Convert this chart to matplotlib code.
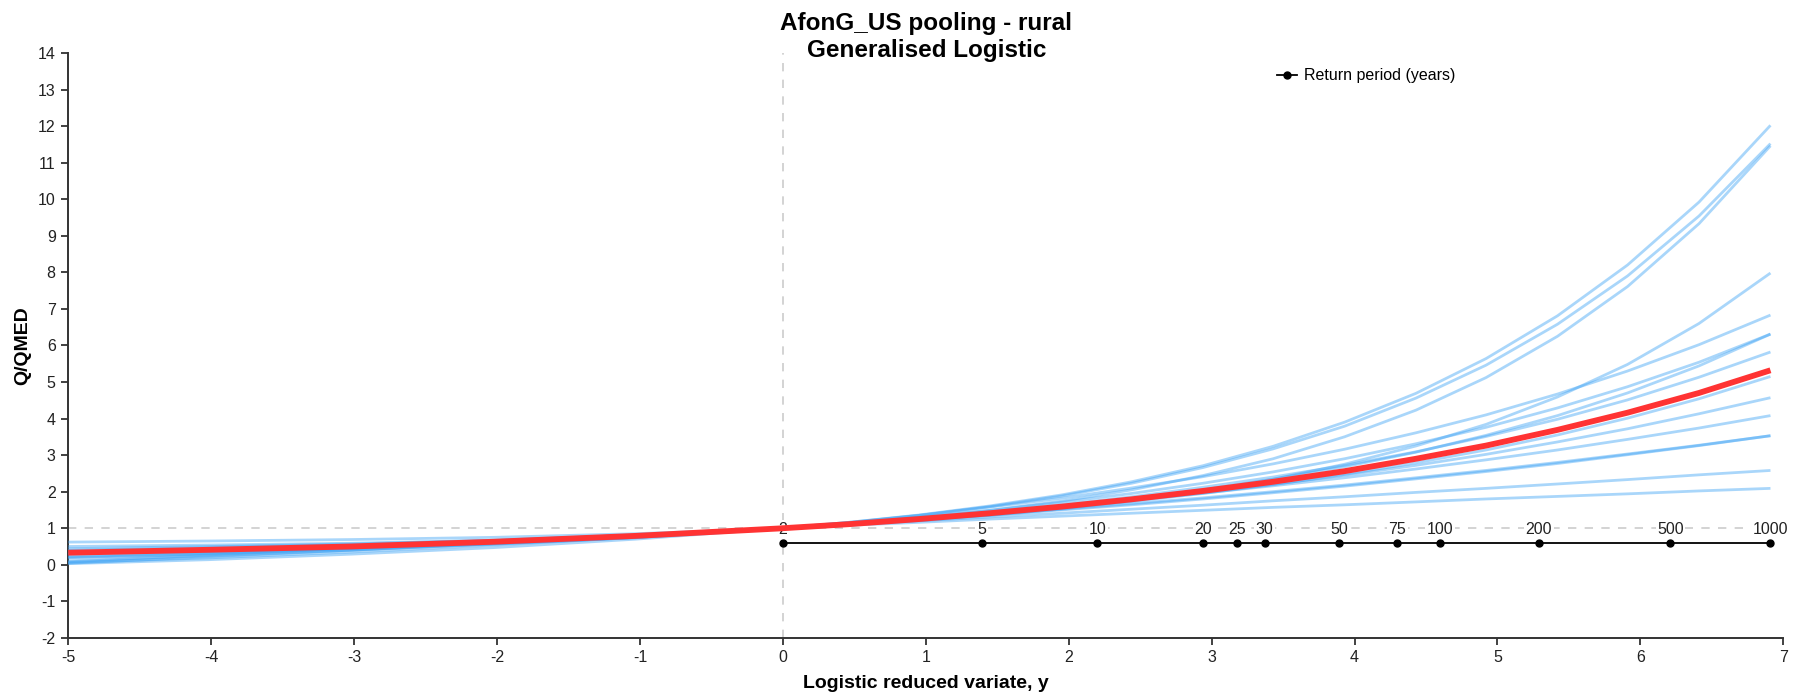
import matplotlib
matplotlib.use("Agg")
import matplotlib.pyplot as plt
from matplotlib.lines import Line2D

plt.rcParams['font.family'] = ['Liberation Sans', 'DejaVu Sans']
plt.rcParams['axes.unicode_minus'] = False

# logistic reduced variate where the growth curves were sampled
x_grid = [-5.0, -4.01, -3.02, -2.02, -1.03, -0.04, 0.46, 0.95, 1.45, 1.95,
          2.44, 2.94, 3.43, 3.93, 4.43, 4.92, 5.42, 5.91, 6.41, 6.91]

# single-site growth curves (Q/QMED) in the pooling group
site_01 = [0.32, 0.37, 0.45, 0.57, 0.74, 0.99, 1.16, 1.36, 1.61, 1.91, 2.27, 2.71, 3.24, 3.90, 4.69, 5.64, 6.81, 8.20, 9.92, 12.02]
site_02 = [0.33, 0.38, 0.46, 0.58, 0.74, 0.99, 1.15, 1.35, 1.59, 1.88, 2.23, 2.66, 3.17, 3.79, 4.56, 5.46, 6.58, 7.90, 9.54, 11.52]
site_03 = [0.50, 0.54, 0.59, 0.67, 0.80, 0.99, 1.12, 1.29, 1.49, 1.74, 2.05, 2.44, 2.90, 3.50, 4.23, 5.12, 6.25, 7.61, 9.33, 11.46]
site_04 = [0.62, 0.65, 0.69, 0.75, 0.85, 0.99, 1.09, 1.21, 1.35, 1.53, 1.75, 2.02, 2.34, 2.75, 3.25, 3.84, 4.59, 5.48, 6.60, 7.98]
site_05 = [0.03, 0.14, 0.29, 0.47, 0.70, 0.99, 1.16, 1.35, 1.58, 1.82, 2.10, 2.41, 2.76, 3.16, 3.61, 4.10, 4.67, 5.30, 6.02, 6.83]
site_06 = [0.20, 0.29, 0.41, 0.56, 0.75, 0.99, 1.14, 1.30, 1.49, 1.71, 1.95, 2.23, 2.54, 2.90, 3.31, 3.76, 4.29, 4.87, 5.54, 6.31]
site_07 = [0.44, 0.50, 0.57, 0.67, 0.81, 0.99, 1.11, 1.24, 1.40, 1.59, 1.80, 2.05, 2.34, 2.68, 3.08, 3.54, 4.08, 4.70, 5.44, 6.31]
site_08 = [0.28, 0.36, 0.46, 0.60, 0.77, 0.99, 1.12, 1.27, 1.45, 1.64, 1.86, 2.12, 2.40, 2.72, 3.09, 3.51, 3.98, 4.51, 5.13, 5.82]
site_09 = [0.40, 0.47, 0.55, 0.66, 0.81, 0.99, 1.10, 1.23, 1.38, 1.55, 1.73, 1.95, 2.19, 2.47, 2.79, 3.14, 3.55, 4.01, 4.54, 5.15]
site_10 = [0.22, 0.32, 0.44, 0.59, 0.77, 0.99, 1.12, 1.26, 1.41, 1.58, 1.77, 1.97, 2.20, 2.45, 2.72, 3.02, 3.36, 3.72, 4.13, 4.57]
site_11 = [0.06, 0.19, 0.35, 0.54, 0.75, 0.99, 1.13, 1.27, 1.42, 1.59, 1.77, 1.96, 2.16, 2.38, 2.62, 2.87, 3.14, 3.43, 3.74, 4.08]
site_12 = [0.11, 0.25, 0.40, 0.58, 0.77, 0.99, 1.11, 1.24, 1.37, 1.52, 1.67, 1.83, 2.00, 2.18, 2.38, 2.58, 2.80, 3.03, 3.27, 3.53]
site_13 = [0.19, 0.31, 0.45, 0.61, 0.79, 0.99, 1.11, 1.23, 1.36, 1.50, 1.64, 1.80, 1.97, 2.15, 2.35, 2.55, 2.77, 3.01, 3.26, 3.53]
site_14 = [0.04, 0.22, 0.40, 0.60, 0.79, 0.99, 1.10, 1.20, 1.31, 1.41, 1.52, 1.63, 1.75, 1.86, 1.98, 2.09, 2.21, 2.33, 2.46, 2.58]
site_15 = [0.08, 0.27, 0.46, 0.64, 0.82, 0.99, 1.08, 1.16, 1.25, 1.33, 1.41, 1.49, 1.57, 1.64, 1.72, 1.80, 1.87, 1.94, 2.02, 2.09]

# pooled growth curve
pooled = [0.33, 0.41, 0.50, 0.63, 0.79, 0.99, 1.11, 1.25, 1.41, 1.59, 1.79, 2.02, 2.27, 2.56, 2.90, 3.26, 3.69, 4.16, 4.70, 5.32]

# return period markers
rp_years = [2, 5, 10, 20, 25, 30, 50, 75, 100, 200, 500, 1000]
rp_variate = [0.0, 1.39, 2.20, 2.94, 3.18, 3.37, 3.89, 4.30, 4.60, 5.29, 6.21, 6.91]
rp_level = 0.6

site_curves = [site_01, site_02, site_03, site_04, site_05, site_06, site_07, site_08,
               site_09, site_10, site_11, site_12, site_13, site_14, site_15]

fig = plt.figure(figsize=(17.95, 6.96), dpi=100)
ax = fig.add_axes([0.038, 0.0835, 0.9555, 0.8404])

ax.set_xlim(-5, 7)
ax.set_ylim(-2, 14)
ax.set_xticks(range(-5, 8))
ax.set_yticks(range(-2, 15))

for side in ['top', 'right']:
    ax.spines[side].set_visible(False)
for side in ['left', 'bottom']:
    ax.spines[side].set_color('#333333')
    ax.spines[side].set_linewidth(1.4)
ax.tick_params(direction='out', length=5, width=1.3, color='#333333', pad=4,
               labelsize=11.5, labelcolor='#222222')

ax.axhline(1, color='#cccccc', lw=1.2, dashes=(5, 5), zorder=1)
ax.axvline(0, color='#cccccc', lw=1.2, dashes=(5, 5), zorder=1)

# return period axis
ax.plot(rp_variate, [rp_level] * len(rp_variate), '-o', color='black', lw=1.3, ms=5, zorder=2)
for xv, yr in zip(rp_variate, rp_years):
    ax.annotate(str(yr), (xv, rp_level), xytext=(0, 6.5), textcoords='offset points',
                ha='center', va='baseline', fontsize=11.5, color='#222222', zorder=2,
                bbox=dict(boxstyle='square,pad=0.1', fc='white', ec='none'))

for curve in site_curves:
    ax.plot(x_grid, curve, color='#42A5F5', lw=2.0, alpha=0.45, zorder=3, solid_capstyle='butt')

ax.plot(x_grid, pooled, color='#FF3333', lw=4.2, zorder=4, solid_capstyle='butt')

handle = Line2D([], [], color='black', marker='o', lw=1.3, ms=5)
ax.legend([handle], ['Return period (years)'], loc='center left', bbox_to_anchor=(0.705, 0.961),
          frameon=False, fontsize=11.5, handlelength=1.25, handletextpad=0.4, borderpad=0,
          borderaxespad=0)

fig.text(0.516, 1 - 30 / 696, 'AfonG_US pooling - rural', ha='center', va='baseline',
         fontsize=17.5, fontweight='bold')
fig.text(0.516, 1 - 57 / 696, 'Generalised Logistic', ha='center', va='baseline',
         fontsize=17.5, fontweight='bold')
ax.set_xlabel('Logistic reduced variate, y', fontsize=14, fontweight='bold', labelpad=7)
ax.set_ylabel('Q/QMED', fontsize=14, fontweight='bold', labelpad=5)

fig.savefig('out.png', dpi=100)
